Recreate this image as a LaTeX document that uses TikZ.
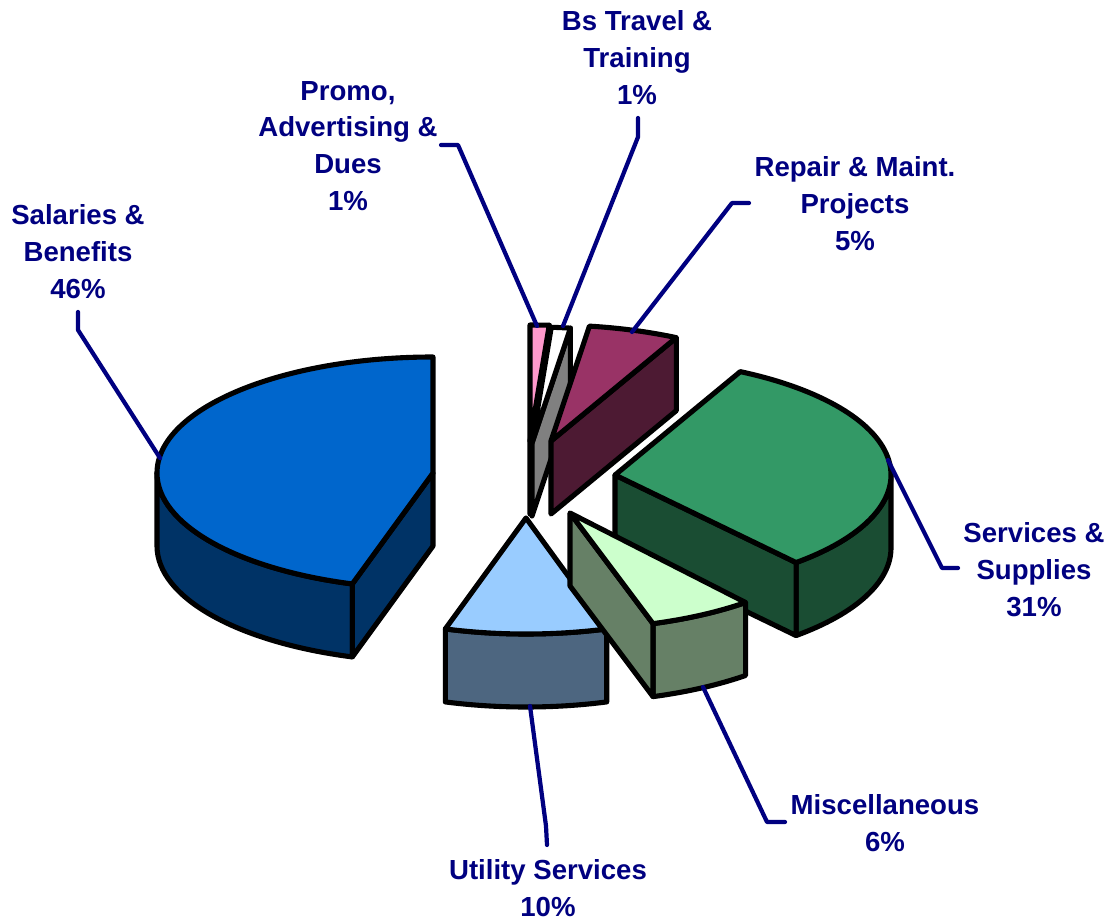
\documentclass[tikz,border=0pt]{standalone}
\usepackage{fontspec}
\setmainfont{Liberation Sans}

\definecolor{labelblue}{HTML}{000080}
\definecolor{saltop}{HTML}{0066CC}
\definecolor{salside}{HTML}{003366}
\definecolor{utiltop}{HTML}{99CCFF}
\definecolor{utilside}{HTML}{4D6680}
\definecolor{misctop}{HTML}{CCFFCC}
\definecolor{miscside}{HTML}{668066}
\definecolor{servtop}{HTML}{339966}
\definecolor{servside}{HTML}{1A4D33}
\definecolor{reptop}{HTML}{993366}
\definecolor{repside}{HTML}{4D1A33}
\definecolor{bstop}{HTML}{FFFFFF}
\definecolor{bsside}{HTML}{808080}
\definecolor{promotop}{HTML}{FF99CC}
\definecolor{promoside}{HTML}{804D66}

\tikzset{
  face/.style={draw=black, line width=2.9pt, line join=round},
  rim/.style={x radius=276, y radius=116},
  leader/.style={draw=labelblue, line width=2.4pt, line join=round, line cap=round},
  lab/.style={text=labelblue, align=center, inner sep=0pt,
    font=\fontsize{15.7}{21}\selectfont\bfseries},
}

\begin{document}
\begin{tikzpicture}[x=0.02cm, y=0.02cm]
\useasboundingbox (0,0) rectangle (1112,-922);

% Promo, Advertising & Dues
\begin{scope}[shift={(530,-441)}]
\draw[face, fill=promoside] (0,0) -- (86:276 and 116) -- ++(0,-73) -- (0,-73) -- cycle;
\draw[face, fill=promotop] (0,0) -- (86:276 and 116) arc[start angle=86, end angle=90, rim] -- cycle;
\end{scope}

% Bs Travel & Training
\begin{scope}[shift={(532,-443)}]
\draw[face, fill=bsside] (0,0) -- (82:276 and 116) -- ++(0,-73) -- (0,-73) -- cycle;
\draw[face, fill=bstop] (0,0) -- (82:276 and 116) arc[start angle=82, end angle=86, rim] -- cycle;
\end{scope}

% Repair & Maint. Projects
\begin{scope}[shift={(551,-441)}]
\draw[face, fill=repside] (0,0) -- (63:276 and 116) -- ++(0,-73) -- (0,-73) -- cycle;
\draw[face, fill=reptop] (0,0) -- (63:276 and 116) arc[start angle=63, end angle=82, rim] -- cycle;
\end{scope}

% Salaries & Benefits
\begin{scope}[shift={(433,-473)}]
\draw[face, fill=salside] (180:276 and 116) arc[start angle=180, end angle=253, rim]
  -- ++(0,-73) arc[start angle=253, end angle=180, rim] -- cycle;
\draw[face, fill=salside] (0,0) -- (253:276 and 116) -- ++(0,-73) -- (0,-73) -- cycle;
\draw[face, fill=saltop] (0,0) -- (90:276 and 116) arc[start angle=90, end angle=253, rim] -- cycle;
\end{scope}

% Services & Supplies
\begin{scope}[shift={(615,-475)}]
\draw[face, fill=servside] (311:276 and 116) arc[start angle=311, end angle=360, rim]
  -- ++(0,-73) arc[start angle=360, end angle=311, rim] -- cycle;
\draw[face, fill=servside] (0,0) -- (311:276 and 116) -- ++(0,-73) -- (0,-73) -- cycle;
\draw[face, fill=servtop] (0,0) -- (311:276 and 116) arc[start angle=311, end angle=423, rim] -- cycle;
\end{scope}

% Utility Services
\begin{scope}[shift={(526,-518)}]
\draw[face, fill=utilside] (253:276 and 116) arc[start angle=253, end angle=287, rim]
  -- ++(0,-73) arc[start angle=287, end angle=253, rim] -- cycle;
\draw[face, fill=utiltop] (0,0) -- (253:276 and 116) arc[start angle=253, end angle=287, rim] -- cycle;
\end{scope}

% Miscellaneous
\begin{scope}[shift={(570,-513)}]
\draw[face, fill=miscside] (287.5:276 and 116) arc[start angle=287.5, end angle=309.5, rim]
  -- ++(0,-73) arc[start angle=309.5, end angle=287.5, rim] -- cycle;
\draw[face, fill=miscside] (0,0) -- (287.5:276 and 116) -- ++(0,-73) -- (0,-73) -- cycle;
\draw[face, fill=misctop] (0,0) -- (287.5:276 and 116) arc[start angle=287.5, end angle=309.5, rim] -- cycle;
\end{scope}

% labels
\node[lab] (salLab) at (78,-252) {Salaries \&\\Benefits\\46\%};
\node[lab] (promoLab) at (348,-146) {Promo,\\Advertising \&\\Dues\\1\%};
\node[lab] (bsLab) at (637,-58) {Bs Travel \&\\Training\\1\%};
\node[lab] (repLab) at (855,-204) {Repair \& Maint.\\Projects\\5\%};
\node[lab] (servLab) at (1034,-570) {Services \&\\Supplies\\31\%};
\node[lab] (miscLab) at (885,-823) {Miscellaneous\\6\%};
\node[lab] (utilLab) at (548,-888) {Utility Services\\10\%};

% leader lines
\coordinate (salTick) at (78,-312);
\coordinate (salEdge) at (160,-458);
\coordinate (promoTick) at (441,-145);
\coordinate (promoEdge) at (537,-326);
\coordinate (bsTick) at (638,-118);
\coordinate (bsEdge) at (563,-326);
\coordinate (repTick) at (749,-203);
\coordinate (repEdge) at (632,-332);
\coordinate (servTick) at (958,-568);
\coordinate (servEdge) at (888,-460);
\coordinate (miscTick) at (785,-822);
\coordinate (miscEdge) at (703,-687);
\coordinate (utilTick) at (547,-845);
\coordinate (utilEdge) at (530,-706);

\draw[leader] (salTick) -- ++(0,-18) -- (salEdge);
\draw[leader] (promoTick) -- ++(17,0) -- (promoEdge);
\draw[leader] (bsTick) -- ++(0,-19) -- (bsEdge);
\draw[leader] (repTick) -- ++(-17,0) -- (repEdge);
\draw[leader] (servTick) -- ++(-16,0) -- (servEdge);
\draw[leader] (miscTick) -- ++(-18,0) -- (miscEdge);
\draw[leader] (utilTick) -- ++(-1,19) -- (utilEdge);

\end{tikzpicture}
\end{document}
